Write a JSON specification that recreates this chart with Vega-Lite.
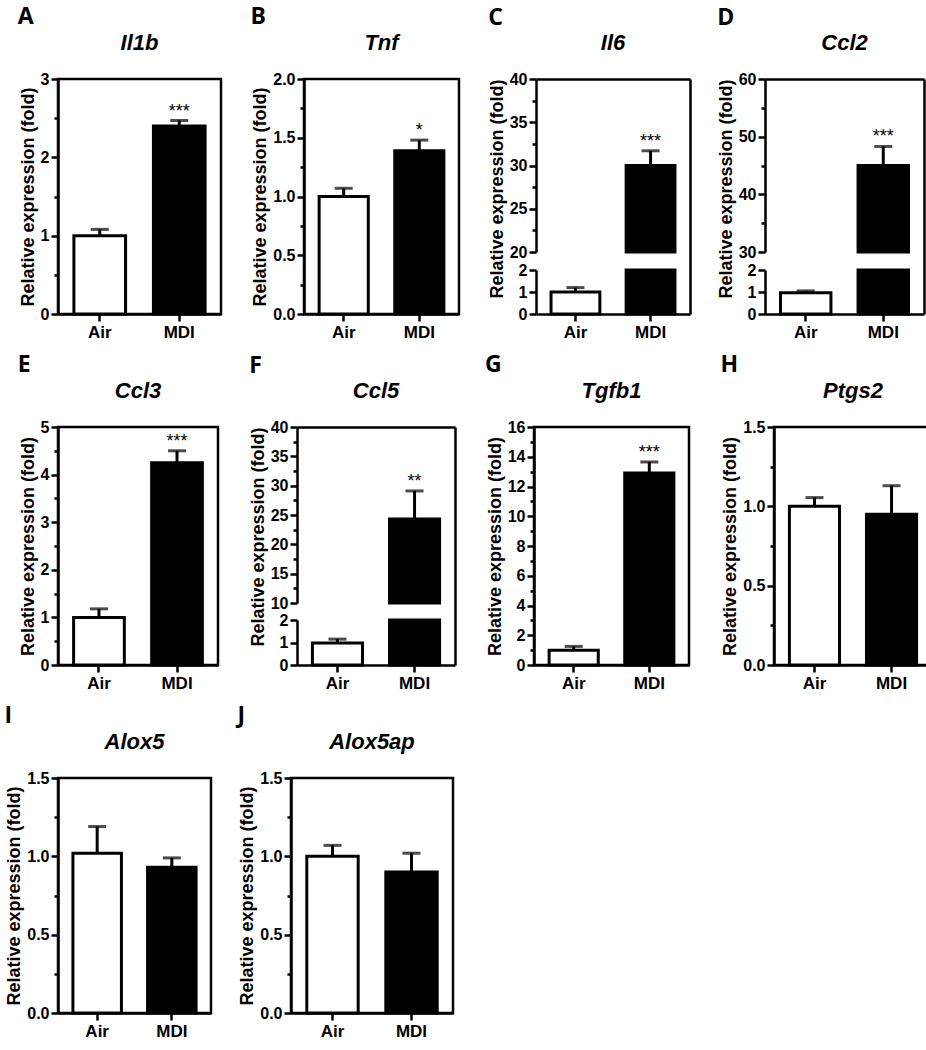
{
  "$schema": "https://vega.github.io/schema/vega-lite/v6.json",
  "background": "white",
  "padding": {"left": 4, "top": 5, "right": 2, "bottom": 2},
  "spacing": 11,
  "data": {"values": [
    {"panel": "A", "gene": "Il1b", "group": "Air", "mean": 1.0, "err_top": 1.08, "sig": ""},
    {"panel": "A", "gene": "Il1b", "group": "MDI", "mean": 2.4, "err_top": 2.47, "sig": "***"},
    {"panel": "B", "gene": "Tnf", "group": "Air", "mean": 1.0, "err_top": 1.07, "sig": ""},
    {"panel": "B", "gene": "Tnf", "group": "MDI", "mean": 1.39, "err_top": 1.48, "sig": "*"},
    {"panel": "C", "gene": "Il6", "group": "Air", "mean": 1.0, "err_top": 1.2, "sig": ""},
    {"panel": "C", "gene": "Il6", "group": "MDI", "mean": 30.0, "err_top": 31.7, "sig": "***"},
    {"panel": "D", "gene": "Ccl2", "group": "Air", "mean": 0.97, "err_top": 1.05, "sig": ""},
    {"panel": "D", "gene": "Ccl2", "group": "MDI", "mean": 45.0, "err_top": 48.3, "sig": "***"},
    {"panel": "E", "gene": "Ccl3", "group": "Air", "mean": 1.0, "err_top": 1.18, "sig": ""},
    {"panel": "E", "gene": "Ccl3", "group": "MDI", "mean": 4.25, "err_top": 4.5, "sig": "***"},
    {"panel": "F", "gene": "Ccl5", "group": "Air", "mean": 0.98, "err_top": 1.15, "sig": ""},
    {"panel": "F", "gene": "Ccl5", "group": "MDI", "mean": 24.3, "err_top": 29.1, "sig": "**"},
    {"panel": "G", "gene": "Tgfb1", "group": "Air", "mean": 1.0, "err_top": 1.25, "sig": ""},
    {"panel": "G", "gene": "Tgfb1", "group": "MDI", "mean": 12.9, "err_top": 13.65, "sig": "***"},
    {"panel": "H", "gene": "Ptgs2", "group": "Air", "mean": 1.0, "err_top": 1.055, "sig": ""},
    {"panel": "H", "gene": "Ptgs2", "group": "MDI", "mean": 0.95, "err_top": 1.13, "sig": ""},
    {"panel": "I", "gene": "Alox5", "group": "Air", "mean": 1.02, "err_top": 1.19, "sig": ""},
    {"panel": "I", "gene": "Alox5", "group": "MDI", "mean": 0.93, "err_top": 0.99, "sig": ""},
    {"panel": "J", "gene": "Alox5ap", "group": "Air", "mean": 1.0, "err_top": 1.07, "sig": ""},
    {"panel": "J", "gene": "Alox5ap", "group": "MDI", "mean": 0.9, "err_top": 1.02, "sig": ""}
  ]},
  "vconcat": [
    {
      "spacing": 27,
      "hconcat": [
        {
          "title": {"text": "A", "anchor": "start", "font": "Open Sans", "fontSize": 23, "fontWeight": "bold", "offset": 2},
          "vconcat": [{
            "title": {"text": "Il1b", "font": "Liberation Sans", "fontSize": 22, "fontStyle": "italic", "fontWeight": "bold", "frame": "group", "anchor": "middle", "offset": 16},
            "width": 163, "height": 235,
            "transform": [{"filter": {"field": "panel", "equal": "A"}}],
            "encoding": {"x": {"field": "group", "type": "nominal", "sort": ["Air", "MDI"], "scale": {"paddingInner": 0.35, "paddingOuter": 0.2}, "axis": {"title": null, "labelAngle": 0}}},
            "layer": [
              {"mark": {"type": "bar", "stroke": "black", "strokeWidth": 3},
               "encoding": {"y": {"field": "mean", "type": "quantitative", "title": "Relative expression (fold)", "scale": {"domain": [0, 3], "nice": false},
                 "axis": {"values": [0, 0.5, 1, 1.5, 2, 2.5, 3], "tickCount": 100, "format": ".0f", "labelOverlap": false, "labelExpr": "datum.value % 1 === 0 ? datum.label : ''", "tickSize": {"condition": {"test": "datum.value % 1 !== 0", "value": 4}, "value": 7}}},
                 "fill": {"field": "group", "type": "nominal", "scale": {"domain": ["Air", "MDI"], "range": ["white", "black"]}, "legend": null}}},
              {"mark": {"type": "rule", "strokeWidth": 3, "color": "black"}, "encoding": {"y": {"field": "mean", "type": "quantitative", "title": "Relative expression (fold)"}, "y2": {"field": "err_top"}}},
              {"mark": {"type": "tick", "size": 18, "thickness": 3, "color": "black", "orient": "horizontal"}, "encoding": {"y": {"field": "err_top", "type": "quantitative", "title": "Relative expression (fold)"}}},
              {"mark": {"type": "text", "dy": -4, "baseline": "alphabetic", "fontSize": 18, "font": "Liberation Sans", "color": "black"}, "encoding": {"y": {"field": "err_top", "type": "quantitative", "title": "Relative expression (fold)"}, "text": {"field": "sig"}}}
            ]
          }]
        },
        {
          "title": {"text": "B", "anchor": "start", "font": "Open Sans", "fontSize": 23, "fontWeight": "bold", "offset": 2},
          "vconcat": [{
            "title": {"text": "Tnf", "font": "Liberation Sans", "fontSize": 22, "fontStyle": "italic", "fontWeight": "bold", "frame": "group", "anchor": "middle", "offset": 16},
            "width": 155, "height": 235,
            "transform": [{"filter": {"field": "panel", "equal": "B"}}],
            "encoding": {"x": {"field": "group", "type": "nominal", "sort": ["Air", "MDI"], "scale": {"paddingInner": 0.35, "paddingOuter": 0.2}, "axis": {"title": null, "labelAngle": 0}}},
            "layer": [
              {"mark": {"type": "bar", "stroke": "black", "strokeWidth": 3},
               "encoding": {"y": {"field": "mean", "type": "quantitative", "title": "Relative expression (fold)", "scale": {"domain": [0, 2], "nice": false},
                 "axis": {"values": [0, 0.25, 0.5, 0.75, 1, 1.25, 1.5, 1.75, 2], "tickCount": 100, "format": ".1f", "labelOverlap": false, "labelExpr": "datum.value % 0.5 === 0 ? datum.label : ''", "tickSize": {"condition": {"test": "datum.value % 0.5 !== 0", "value": 4}, "value": 7}}},
                 "fill": {"field": "group", "type": "nominal", "scale": {"domain": ["Air", "MDI"], "range": ["white", "black"]}, "legend": null}}},
              {"mark": {"type": "rule", "strokeWidth": 3, "color": "black"}, "encoding": {"y": {"field": "mean", "type": "quantitative", "title": "Relative expression (fold)"}, "y2": {"field": "err_top"}}},
              {"mark": {"type": "tick", "size": 18, "thickness": 3, "color": "black", "orient": "horizontal"}, "encoding": {"y": {"field": "err_top", "type": "quantitative", "title": "Relative expression (fold)"}}},
              {"mark": {"type": "text", "dy": -4, "baseline": "alphabetic", "fontSize": 18, "font": "Liberation Sans", "color": "black"}, "encoding": {"y": {"field": "err_top", "type": "quantitative", "title": "Relative expression (fold)"}, "text": {"field": "sig"}}}
            ]
          }]
        },
        {
          "title": {"text": "C", "anchor": "start", "font": "Open Sans", "fontSize": 23, "fontWeight": "bold", "offset": 2},
          "vconcat": [{
            "title": {"text": "Il6", "font": "Liberation Sans", "fontSize": 22, "fontStyle": "italic", "fontWeight": "bold", "frame": "group", "anchor": "middle", "offset": 16},
            "width": 154, "height": 235,
            "view": {"stroke": null},
            "transform": [{"filter": {"field": "panel", "equal": "C"}}],
            "resolve": {"scale": {"x": "independent", "y": "independent"}},
            "layer": [
              {
                "encoding": {"x": {"field": "group", "type": "nominal", "sort": ["Air", "MDI"], "scale": {"paddingInner": 0.35, "paddingOuter": 0.2}, "axis": {"title": null, "labelAngle": 0}}},
                "layer": [
                  {"mark": {"type": "bar", "stroke": "black", "strokeWidth": 3},
                   "encoding": {"y": {"field": "mean", "type": "quantitative", "title": null, "scale": {"domain": [0, 2], "range": [235, 191], "clamp": true, "nice": false, "zero": false}, "axis": {"orient": "left", "values": [0, 1, 2], "tickCount": 100, "format": ".0f", "labelOverlap": false}},
                     "y2": {"datum": 0},
                     "fill": {"field": "group", "type": "nominal", "scale": {"domain": ["Air", "MDI"], "range": ["white", "black"]}, "legend": null}}},
                  {"transform": [{"filter": {"field": "mean", "lt": 2}}], "mark": {"type": "rule", "strokeWidth": 3, "color": "black"}, "encoding": {"y": {"field": "mean", "type": "quantitative", "title": null}, "y2": {"field": "err_top"}}},
                  {"transform": [{"filter": {"field": "mean", "lt": 2}}], "mark": {"type": "tick", "size": 18, "thickness": 3, "color": "black", "orient": "horizontal"}, "encoding": {"y": {"field": "err_top", "type": "quantitative", "title": null}}}
                ]
              },
              {
                "transform": [{"filter": {"field": "mean", "gt": 20}}],
                "encoding": {"x": {"field": "group", "type": "nominal", "sort": ["Air", "MDI"], "scale": {"domain": ["Air", "MDI"], "paddingInner": 0.35, "paddingOuter": 0.2}, "axis": null}},
                "layer": [
                  {"mark": {"type": "bar", "stroke": "black", "strokeWidth": 3},
                   "encoding": {"y": {"field": "mean", "type": "quantitative", "title": "Relative expression (fold)", "scale": {"domain": [20, 40], "range": [173, 0], "clamp": true, "nice": false, "zero": false},
                     "axis": {"orient": "left", "values": [20, 22.5, 25, 27.5, 30, 32.5, 35, 37.5, 40], "tickCount": 100, "format": ".0f", "labelOverlap": false, "labelExpr": "datum.value % 5 === 0 ? datum.label : ''", "tickSize": {"condition": {"test": "datum.value % 5 !== 0", "value": 4}, "value": 7}, "titleAnchor": "end"}},
                     "y2": {"datum": 0},
                     "fill": {"field": "group", "type": "nominal", "scale": {"domain": ["Air", "MDI"], "range": ["white", "black"]}, "legend": null}}},
                  {"mark": {"type": "rule", "strokeWidth": 3, "color": "black"}, "encoding": {"y": {"field": "mean", "type": "quantitative", "title": "Relative expression (fold)"}, "y2": {"field": "err_top"}}},
                  {"mark": {"type": "tick", "size": 18, "thickness": 3, "color": "black", "orient": "horizontal"}, "encoding": {"y": {"field": "err_top", "type": "quantitative", "title": "Relative expression (fold)"}}},
                  {"mark": {"type": "text", "dy": -4, "baseline": "alphabetic", "fontSize": 18, "font": "Liberation Sans", "color": "black"}, "encoding": {"y": {"field": "err_top", "type": "quantitative", "title": "Relative expression (fold)"}, "text": {"field": "sig"}}}
                ]
              },
              {
                "mark": {"type": "point", "opacity": 0},
                "encoding": {
                  "x": {"field": "group", "type": "nominal", "sort": ["Air", "MDI"], "scale": {"paddingInner": 0.35, "paddingOuter": 0.2}, "axis": {"orient": "top", "labels": false, "ticks": false, "title": null}},
                  "y": {"field": "mean", "type": "quantitative", "scale": {"domain": [0, 1], "range": [235, 0], "clamp": true, "nice": false}, "axis": {"orient": "right", "labels": false, "ticks": false, "title": null}}
                }
              }
            ]
          }]
        },
        {
          "title": {"text": "D", "anchor": "start", "font": "Open Sans", "fontSize": 23, "fontWeight": "bold", "offset": 2},
          "vconcat": [{
            "title": {"text": "Ccl2", "font": "Liberation Sans", "fontSize": 22, "fontStyle": "italic", "fontWeight": "bold", "frame": "group", "anchor": "middle", "offset": 16},
            "width": 159, "height": 235,
            "view": {"stroke": null},
            "transform": [{"filter": {"field": "panel", "equal": "D"}}],
            "resolve": {"scale": {"x": "independent", "y": "independent"}},
            "layer": [
              {
                "encoding": {"x": {"field": "group", "type": "nominal", "sort": ["Air", "MDI"], "scale": {"paddingInner": 0.35, "paddingOuter": 0.2}, "axis": {"title": null, "labelAngle": 0}}},
                "layer": [
                  {"mark": {"type": "bar", "stroke": "black", "strokeWidth": 3},
                   "encoding": {"y": {"field": "mean", "type": "quantitative", "title": null, "scale": {"domain": [0, 2], "range": [235, 191], "clamp": true, "nice": false, "zero": false}, "axis": {"orient": "left", "values": [0, 1, 2], "tickCount": 100, "format": ".0f", "labelOverlap": false}},
                     "y2": {"datum": 0},
                     "fill": {"field": "group", "type": "nominal", "scale": {"domain": ["Air", "MDI"], "range": ["white", "black"]}, "legend": null}}},
                  {"transform": [{"filter": {"field": "mean", "lt": 2}}], "mark": {"type": "rule", "strokeWidth": 3, "color": "black"}, "encoding": {"y": {"field": "mean", "type": "quantitative", "title": null}, "y2": {"field": "err_top"}}},
                  {"transform": [{"filter": {"field": "mean", "lt": 2}}], "mark": {"type": "tick", "size": 18, "thickness": 3, "color": "black", "orient": "horizontal"}, "encoding": {"y": {"field": "err_top", "type": "quantitative", "title": null}}}
                ]
              },
              {
                "transform": [{"filter": {"field": "mean", "gt": 30}}],
                "encoding": {"x": {"field": "group", "type": "nominal", "sort": ["Air", "MDI"], "scale": {"domain": ["Air", "MDI"], "paddingInner": 0.35, "paddingOuter": 0.2}, "axis": null}},
                "layer": [
                  {"mark": {"type": "bar", "stroke": "black", "strokeWidth": 3},
                   "encoding": {"y": {"field": "mean", "type": "quantitative", "title": "Relative expression (fold)", "scale": {"domain": [30, 60], "range": [173, 0], "clamp": true, "nice": false, "zero": false},
                     "axis": {"orient": "left", "values": [30, 35, 40, 45, 50, 55, 60], "tickCount": 100, "format": ".0f", "labelOverlap": false, "labelExpr": "datum.value % 10 === 0 ? datum.label : ''", "tickSize": {"condition": {"test": "datum.value % 10 !== 0", "value": 4}, "value": 7}, "titleAnchor": "end"}},
                     "y2": {"datum": 0},
                     "fill": {"field": "group", "type": "nominal", "scale": {"domain": ["Air", "MDI"], "range": ["white", "black"]}, "legend": null}}},
                  {"mark": {"type": "rule", "strokeWidth": 3, "color": "black"}, "encoding": {"y": {"field": "mean", "type": "quantitative", "title": "Relative expression (fold)"}, "y2": {"field": "err_top"}}},
                  {"mark": {"type": "tick", "size": 18, "thickness": 3, "color": "black", "orient": "horizontal"}, "encoding": {"y": {"field": "err_top", "type": "quantitative", "title": "Relative expression (fold)"}}},
                  {"mark": {"type": "text", "dy": -4, "baseline": "alphabetic", "fontSize": 18, "font": "Liberation Sans", "color": "black"}, "encoding": {"y": {"field": "err_top", "type": "quantitative", "title": "Relative expression (fold)"}, "text": {"field": "sig"}}}
                ]
              },
              {
                "mark": {"type": "point", "opacity": 0},
                "encoding": {
                  "x": {"field": "group", "type": "nominal", "sort": ["Air", "MDI"], "scale": {"paddingInner": 0.35, "paddingOuter": 0.2}, "axis": {"orient": "top", "labels": false, "ticks": false, "title": null}},
                  "y": {"field": "mean", "type": "quantitative", "scale": {"domain": [0, 1], "range": [235, 0], "clamp": true, "nice": false}, "axis": {"orient": "right", "labels": false, "ticks": false, "title": null}}
                }
              }
            ]
          }]
        }
      ]
    },
    {
      "spacing": 29,
      "hconcat": [
        {
          "title": {"text": "E", "anchor": "start", "font": "Open Sans", "fontSize": 23, "fontWeight": "bold", "offset": 2},
          "vconcat": [{
            "title": {"text": "Ccl3", "font": "Liberation Sans", "fontSize": 22, "fontStyle": "italic", "fontWeight": "bold", "frame": "group", "anchor": "middle", "offset": 16},
            "width": 160, "height": 238,
            "transform": [{"filter": {"field": "panel", "equal": "E"}}],
            "encoding": {"x": {"field": "group", "type": "nominal", "sort": ["Air", "MDI"], "scale": {"paddingInner": 0.35, "paddingOuter": 0.2}, "axis": {"title": null, "labelAngle": 0}}},
            "layer": [
              {"mark": {"type": "bar", "stroke": "black", "strokeWidth": 3},
               "encoding": {"y": {"field": "mean", "type": "quantitative", "title": "Relative expression (fold)", "scale": {"domain": [0, 5], "nice": false},
                 "axis": {"values": [0, 0.5, 1, 1.5, 2, 2.5, 3, 3.5, 4, 4.5, 5], "tickCount": 100, "format": ".0f", "labelOverlap": false, "labelExpr": "datum.value % 1 === 0 ? datum.label : ''", "tickSize": {"condition": {"test": "datum.value % 1 !== 0", "value": 4}, "value": 7}}},
                 "fill": {"field": "group", "type": "nominal", "scale": {"domain": ["Air", "MDI"], "range": ["white", "black"]}, "legend": null}}},
              {"mark": {"type": "rule", "strokeWidth": 3, "color": "black"}, "encoding": {"y": {"field": "mean", "type": "quantitative", "title": "Relative expression (fold)"}, "y2": {"field": "err_top"}}},
              {"mark": {"type": "tick", "size": 18, "thickness": 3, "color": "black", "orient": "horizontal"}, "encoding": {"y": {"field": "err_top", "type": "quantitative", "title": "Relative expression (fold)"}}},
              {"mark": {"type": "text", "dy": -4, "baseline": "alphabetic", "fontSize": 18, "font": "Liberation Sans", "color": "black"}, "encoding": {"y": {"field": "err_top", "type": "quantitative", "title": "Relative expression (fold)"}, "text": {"field": "sig"}}}
            ]
          }]
        },
        {
          "title": {"text": "F", "anchor": "start", "font": "Open Sans", "fontSize": 23, "fontWeight": "bold", "offset": 2},
          "vconcat": [{
            "title": {"text": "Ccl5", "font": "Liberation Sans", "fontSize": 22, "fontStyle": "italic", "fontWeight": "bold", "frame": "group", "anchor": "middle", "offset": 16},
            "width": 158, "height": 238,
            "view": {"stroke": null},
            "transform": [{"filter": {"field": "panel", "equal": "F"}}],
            "resolve": {"scale": {"x": "independent", "y": "independent"}},
            "layer": [
              {
                "encoding": {"x": {"field": "group", "type": "nominal", "sort": ["Air", "MDI"], "scale": {"paddingInner": 0.35, "paddingOuter": 0.2}, "axis": {"title": null, "labelAngle": 0}}},
                "layer": [
                  {"mark": {"type": "bar", "stroke": "black", "strokeWidth": 3},
                   "encoding": {"y": {"field": "mean", "type": "quantitative", "title": null, "scale": {"domain": [0, 2], "range": [238, 193], "clamp": true, "nice": false, "zero": false}, "axis": {"orient": "left", "values": [0, 1, 2], "tickCount": 100, "format": ".0f", "labelOverlap": false}},
                     "y2": {"datum": 0},
                     "fill": {"field": "group", "type": "nominal", "scale": {"domain": ["Air", "MDI"], "range": ["white", "black"]}, "legend": null}}},
                  {"transform": [{"filter": {"field": "mean", "lt": 2}}], "mark": {"type": "rule", "strokeWidth": 3, "color": "black"}, "encoding": {"y": {"field": "mean", "type": "quantitative", "title": null}, "y2": {"field": "err_top"}}},
                  {"transform": [{"filter": {"field": "mean", "lt": 2}}], "mark": {"type": "tick", "size": 18, "thickness": 3, "color": "black", "orient": "horizontal"}, "encoding": {"y": {"field": "err_top", "type": "quantitative", "title": null}}}
                ]
              },
              {
                "transform": [{"filter": {"field": "mean", "gt": 10}}],
                "encoding": {"x": {"field": "group", "type": "nominal", "sort": ["Air", "MDI"], "scale": {"domain": ["Air", "MDI"], "paddingInner": 0.35, "paddingOuter": 0.2}, "axis": null}},
                "layer": [
                  {"mark": {"type": "bar", "stroke": "black", "strokeWidth": 3},
                   "encoding": {"y": {"field": "mean", "type": "quantitative", "title": "Relative expression (fold)", "scale": {"domain": [10, 40], "range": [176, 0], "clamp": true, "nice": false, "zero": false},
                     "axis": {"orient": "left", "values": [10, 12.5, 15, 17.5, 20, 22.5, 25, 27.5, 30, 32.5, 35, 37.5, 40], "tickCount": 100, "format": ".0f", "labelOverlap": false, "labelExpr": "datum.value % 5 === 0 ? datum.label : ''", "tickSize": {"condition": {"test": "datum.value % 5 !== 0", "value": 4}, "value": 7}, "titleAnchor": "end"}},
                     "y2": {"datum": 0},
                     "fill": {"field": "group", "type": "nominal", "scale": {"domain": ["Air", "MDI"], "range": ["white", "black"]}, "legend": null}}},
                  {"mark": {"type": "rule", "strokeWidth": 3, "color": "black"}, "encoding": {"y": {"field": "mean", "type": "quantitative", "title": "Relative expression (fold)"}, "y2": {"field": "err_top"}}},
                  {"mark": {"type": "tick", "size": 18, "thickness": 3, "color": "black", "orient": "horizontal"}, "encoding": {"y": {"field": "err_top", "type": "quantitative", "title": "Relative expression (fold)"}}},
                  {"mark": {"type": "text", "dy": -4, "baseline": "alphabetic", "fontSize": 18, "font": "Liberation Sans", "color": "black"}, "encoding": {"y": {"field": "err_top", "type": "quantitative", "title": "Relative expression (fold)"}, "text": {"field": "sig"}}}
                ]
              },
              {
                "mark": {"type": "point", "opacity": 0},
                "encoding": {
                  "x": {"field": "group", "type": "nominal", "sort": ["Air", "MDI"], "scale": {"paddingInner": 0.35, "paddingOuter": 0.2}, "axis": {"orient": "top", "labels": false, "ticks": false, "title": null}},
                  "y": {"field": "mean", "type": "quantitative", "scale": {"domain": [0, 1], "range": [238, 0], "clamp": true, "nice": false}, "axis": {"orient": "right", "labels": false, "ticks": false, "title": null}}
                }
              }
            ]
          }]
        },
        {
          "title": {"text": "G", "anchor": "start", "font": "Open Sans", "fontSize": 23, "fontWeight": "bold", "offset": 2},
          "vconcat": [{
            "title": {"text": "Tgfb1", "font": "Liberation Sans", "fontSize": 22, "fontStyle": "italic", "fontWeight": "bold", "frame": "group", "anchor": "middle", "offset": 16},
            "width": 155, "height": 238,
            "transform": [{"filter": {"field": "panel", "equal": "G"}}],
            "encoding": {"x": {"field": "group", "type": "nominal", "sort": ["Air", "MDI"], "scale": {"paddingInner": 0.35, "paddingOuter": 0.2}, "axis": {"title": null, "labelAngle": 0}}},
            "layer": [
              {"mark": {"type": "bar", "stroke": "black", "strokeWidth": 3},
               "encoding": {"y": {"field": "mean", "type": "quantitative", "title": "Relative expression (fold)", "scale": {"domain": [0, 16], "nice": false},
                 "axis": {"values": [0, 1, 2, 3, 4, 5, 6, 7, 8, 9, 10, 11, 12, 13, 14, 15, 16], "tickCount": 100, "format": ".0f", "labelOverlap": false, "labelExpr": "datum.value % 2 === 0 ? datum.label : ''", "tickSize": {"condition": {"test": "datum.value % 2 !== 0", "value": 4}, "value": 7}}},
                 "fill": {"field": "group", "type": "nominal", "scale": {"domain": ["Air", "MDI"], "range": ["white", "black"]}, "legend": null}}},
              {"mark": {"type": "rule", "strokeWidth": 3, "color": "black"}, "encoding": {"y": {"field": "mean", "type": "quantitative", "title": "Relative expression (fold)"}, "y2": {"field": "err_top"}}},
              {"mark": {"type": "tick", "size": 18, "thickness": 3, "color": "black", "orient": "horizontal"}, "encoding": {"y": {"field": "err_top", "type": "quantitative", "title": "Relative expression (fold)"}}},
              {"mark": {"type": "text", "dy": -4, "baseline": "alphabetic", "fontSize": 18, "font": "Liberation Sans", "color": "black"}, "encoding": {"y": {"field": "err_top", "type": "quantitative", "title": "Relative expression (fold)"}, "text": {"field": "sig"}}}
            ]
          }]
        },
        {
          "title": {"text": "H", "anchor": "start", "font": "Open Sans", "fontSize": 23, "fontWeight": "bold", "offset": 2},
          "vconcat": [{
            "title": {"text": "Ptgs2", "font": "Liberation Sans", "fontSize": 22, "fontStyle": "italic", "fontWeight": "bold", "frame": "group", "anchor": "middle", "offset": 16},
            "width": 158, "height": 238,
            "transform": [{"filter": {"field": "panel", "equal": "H"}}],
            "encoding": {"x": {"field": "group", "type": "nominal", "sort": ["Air", "MDI"], "scale": {"paddingInner": 0.35, "paddingOuter": 0.2}, "axis": {"title": null, "labelAngle": 0}}},
            "layer": [
              {"mark": {"type": "bar", "stroke": "black", "strokeWidth": 3},
               "encoding": {"y": {"field": "mean", "type": "quantitative", "title": "Relative expression (fold)", "scale": {"domain": [0, 1.5], "nice": false},
                 "axis": {"values": [0, 0.25, 0.5, 0.75, 1, 1.25, 1.5], "tickCount": 100, "format": ".1f", "labelOverlap": false, "labelExpr": "datum.value % 0.5 === 0 ? datum.label : ''", "tickSize": {"condition": {"test": "datum.value % 0.5 !== 0", "value": 4}, "value": 7}}},
                 "fill": {"field": "group", "type": "nominal", "scale": {"domain": ["Air", "MDI"], "range": ["white", "black"]}, "legend": null}}},
              {"mark": {"type": "rule", "strokeWidth": 3, "color": "black"}, "encoding": {"y": {"field": "mean", "type": "quantitative", "title": "Relative expression (fold)"}, "y2": {"field": "err_top"}}},
              {"mark": {"type": "tick", "size": 18, "thickness": 3, "color": "black", "orient": "horizontal"}, "encoding": {"y": {"field": "err_top", "type": "quantitative", "title": "Relative expression (fold)"}}},
              {"mark": {"type": "text", "dy": -4, "baseline": "alphabetic", "fontSize": 18, "font": "Liberation Sans", "color": "black"}, "encoding": {"y": {"field": "err_top", "type": "quantitative", "title": "Relative expression (fold)"}, "text": {"field": "sig"}}}
            ]
          }]
        }
      ]
    },
    {
      "spacing": 24,
      "hconcat": [
        {
          "title": {"text": "I", "anchor": "start", "font": "Open Sans", "fontSize": 23, "fontWeight": "bold", "offset": 2},
          "vconcat": [{
            "title": {"text": "Alox5", "font": "Liberation Sans", "fontSize": 22, "fontStyle": "italic", "fontWeight": "bold", "frame": "group", "anchor": "middle", "offset": 16},
            "width": 153, "height": 235,
            "transform": [{"filter": {"field": "panel", "equal": "I"}}],
            "encoding": {"x": {"field": "group", "type": "nominal", "sort": ["Air", "MDI"], "scale": {"paddingInner": 0.35, "paddingOuter": 0.2}, "axis": {"title": null, "labelAngle": 0}}},
            "layer": [
              {"mark": {"type": "bar", "stroke": "black", "strokeWidth": 3},
               "encoding": {"y": {"field": "mean", "type": "quantitative", "title": "Relative expression (fold)", "scale": {"domain": [0, 1.5], "nice": false},
                 "axis": {"values": [0, 0.25, 0.5, 0.75, 1, 1.25, 1.5], "tickCount": 100, "format": ".1f", "labelOverlap": false, "labelExpr": "datum.value % 0.5 === 0 ? datum.label : ''", "tickSize": {"condition": {"test": "datum.value % 0.5 !== 0", "value": 4}, "value": 7}}},
                 "fill": {"field": "group", "type": "nominal", "scale": {"domain": ["Air", "MDI"], "range": ["white", "black"]}, "legend": null}}},
              {"mark": {"type": "rule", "strokeWidth": 3, "color": "black"}, "encoding": {"y": {"field": "mean", "type": "quantitative", "title": "Relative expression (fold)"}, "y2": {"field": "err_top"}}},
              {"mark": {"type": "tick", "size": 18, "thickness": 3, "color": "black", "orient": "horizontal"}, "encoding": {"y": {"field": "err_top", "type": "quantitative", "title": "Relative expression (fold)"}}}
            ]
          }]
        },
        {
          "title": {"text": "J", "anchor": "start", "font": "Open Sans", "fontSize": 23, "fontWeight": "bold", "offset": 2},
          "vconcat": [{
            "title": {"text": "Alox5ap", "font": "Liberation Sans", "fontSize": 22, "fontStyle": "italic", "fontWeight": "bold", "frame": "group", "anchor": "middle", "offset": 16},
            "width": 162, "height": 235,
            "transform": [{"filter": {"field": "panel", "equal": "J"}}],
            "encoding": {"x": {"field": "group", "type": "nominal", "sort": ["Air", "MDI"], "scale": {"paddingInner": 0.35, "paddingOuter": 0.2}, "axis": {"title": null, "labelAngle": 0}}},
            "layer": [
              {"mark": {"type": "bar", "stroke": "black", "strokeWidth": 3},
               "encoding": {"y": {"field": "mean", "type": "quantitative", "title": "Relative expression (fold)", "scale": {"domain": [0, 1.5], "nice": false},
                 "axis": {"values": [0, 0.25, 0.5, 0.75, 1, 1.25, 1.5], "tickCount": 100, "format": ".1f", "labelOverlap": false, "labelExpr": "datum.value % 0.5 === 0 ? datum.label : ''", "tickSize": {"condition": {"test": "datum.value % 0.5 !== 0", "value": 4}, "value": 7}}},
                 "fill": {"field": "group", "type": "nominal", "scale": {"domain": ["Air", "MDI"], "range": ["white", "black"]}, "legend": null}}},
              {"mark": {"type": "rule", "strokeWidth": 3, "color": "black"}, "encoding": {"y": {"field": "mean", "type": "quantitative", "title": "Relative expression (fold)"}, "y2": {"field": "err_top"}}},
              {"mark": {"type": "tick", "size": 18, "thickness": 3, "color": "black", "orient": "horizontal"}, "encoding": {"y": {"field": "err_top", "type": "quantitative", "title": "Relative expression (fold)"}}}
            ]
          }]
        }
      ]
    }
  ],
  "config": {
    "view": {"stroke": "black", "strokeWidth": 2.5},
    "font": "Liberation Sans",
    "axis": {"domainColor": "black", "domainWidth": 2.5, "tickColor": "black", "tickWidth": 2.5, "labelColor": "black", "labelFont": "Liberation Sans", "labelFontWeight": "bold", "titleFont": "Liberation Sans", "titleFontWeight": "bold", "titleColor": "black", "grid": false},
    "axisY": {"labelFontSize": 16, "titleFontSize": 18, "tickSize": 7, "labelPadding": 2, "titlePadding": 3, "labelOverlap": false},
    "axisX": {"labelFontSize": 17, "tickSize": 7, "labelPadding": 3},
    "title": {"color": "black"}
  }
}
